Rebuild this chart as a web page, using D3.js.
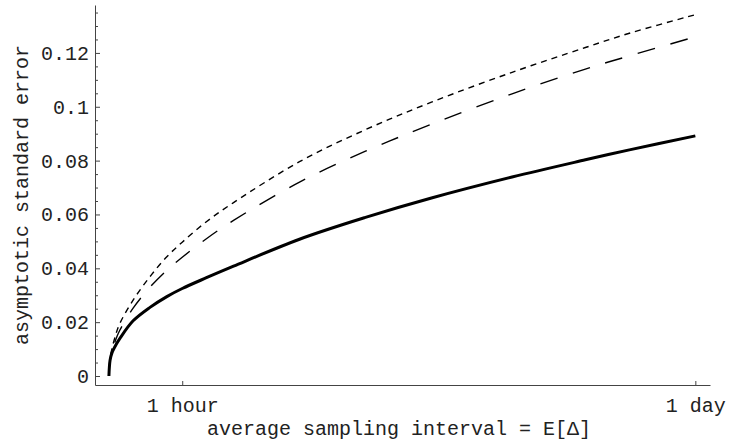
<!DOCTYPE html>
<html>
<head>
<meta charset="utf-8">
<script src="https://cdn.jsdelivr.net/npm/d3@7"></script>
<style>
  html, body { margin: 0; padding: 0; background: #fff; }
  svg { display: block; }
  text { font-family: "Liberation Mono", "Courier New", "DejaVu Sans Mono", monospace; fill: #222; }
</style>
</head>
<body>
<svg id="chart" width="746" height="445"></svg>
<script>
// Average sampling interval, in trading hours (one trading day = 8 hours)
const hours = [0, 0.015, 0.04, 0.1, 0.15, 0.33, 0.56, 0.79, 1.0, 1.33, 1.7, 2.6, 3.5, 4.4, 5.5, 6.5, 7.1, 8];

// Asymptotic standard error for the three sampling schemes
const seSolid     = [0, 0.0058, 0.0085, 0.0118, 0.0140, 0.0205, 0.0255, 0.0295, 0.0325, 0.0365, 0.0408, 0.0508, 0.0589, 0.0661, 0.0739, 0.0803, 0.0840, 0.0892];
const seLongDash  = [0, 0.0055, 0.0089, 0.0140, 0.0171, 0.0252, 0.0330, 0.0393, 0.0441, 0.0510, 0.0578, 0.0720, 0.0835, 0.0935, 0.1048, 0.1140, 0.1189, 0.1260];
const seShortDash = [0, 0.0065, 0.0100, 0.0160, 0.0196, 0.0282, 0.0369, 0.0443, 0.0497, 0.0573, 0.0644, 0.0796, 0.0915, 0.1017, 0.1128, 0.1220, 0.1273, 0.1342];

// Axis ticks
const xTickValues = [1, 8];
const xTickLabels = ["1 hour", "1 day"];
const yTickValues = [0, 0.02, 0.04, 0.06, 0.08, 0.1, 0.12];
const yTickLabels = ["0", "0.02", "0.04", "0.06", "0.08", "0.1", "0.12"];
const yMinorTicks = [0.005, 0.01, 0.015, 0.025, 0.03, 0.035, 0.045, 0.05, 0.055,
                     0.065, 0.07, 0.075, 0.085, 0.09, 0.095, 0.105, 0.11, 0.115, 0.125, 0.13, 0.135];

const xTitle = "average sampling interval = E[\u0394]";
const yTitle = "asymptotic standard error";

const svg = d3.select("#chart");

const x = d3.scaleLinear().domain([-0.19, 8.2]).range([95, 710]);
const y = d3.scaleLinear().domain([-0.00334, 0.1378]).range([385, 5]);

const axisColor = "#444";

// y axis: minor ticks first, then major ticks with labels
svg.append("g")
  .attr("transform", `translate(${x.range()[0]},0)`)
  .call(d3.axisLeft(y).tickValues(yMinorTicks).tickSize(-3).tickFormat(""))
  .call(g => g.select(".domain").remove())
  .call(g => g.selectAll("line").attr("stroke", axisColor));

const yAxisG = svg.append("g")
  .attr("transform", `translate(${x.range()[0]},0)`)
  .call(d3.axisLeft(y).tickValues(yTickValues).tickSizeInner(-5).tickSizeOuter(0).tickPadding(6)
        .tickFormat((d, i) => yTickLabels[i]));
yAxisG.select(".domain").attr("stroke", axisColor);
yAxisG.selectAll("line").attr("stroke", axisColor);
yAxisG.selectAll("text").attr("font-size", 20).attr("fill", "#222");
yAxisG.attr("font-family", null).attr("font-size", null);

// x axis
const xAxisG = svg.append("g")
  .attr("transform", `translate(0,${y.range()[0]})`)
  .call(d3.axisBottom(x).tickValues(xTickValues).tickSizeInner(-4).tickSizeOuter(0).tickPadding(13)
        .tickFormat((d, i) => xTickLabels[i]));
xAxisG.select(".domain").attr("stroke", axisColor);
xAxisG.selectAll("line").attr("stroke", axisColor);
xAxisG.selectAll("text").attr("font-size", 20).attr("fill", "#222");
xAxisG.attr("font-family", null).attr("font-size", null);

// axis titles
svg.append("text")
  .attr("x", 399).attr("y", 435)
  .attr("text-anchor", "middle")
  .attr("font-size", 20)
  .text(xTitle);

svg.append("text")
  .attr("transform", "translate(28,195) rotate(-90)")
  .attr("text-anchor", "middle")
  .attr("font-size", 20)
  .text(yTitle);

// curves
const line = d3.line()
  .x((d, i) => x(hours[i]))
  .y(d => y(d))
  .curve(d3.curveCatmullRom.alpha(0.5));

const series = [
  { values: seShortDash, width: 1.4, dash: "6,5" },
  { values: seLongDash,  width: 1.4, dash: "18,16" },
  { values: seSolid,     width: 3,   dash: null }
];

svg.append("g").selectAll("path")
  .data(series)
  .join("path")
  .attr("d", s => line(s.values))
  .attr("fill", "none")
  .attr("stroke", "#000")
  .attr("stroke-width", s => s.width)
  .attr("stroke-dasharray", s => s.dash)
  .attr("stroke-linejoin", "round");
</script>
</body>
</html>
